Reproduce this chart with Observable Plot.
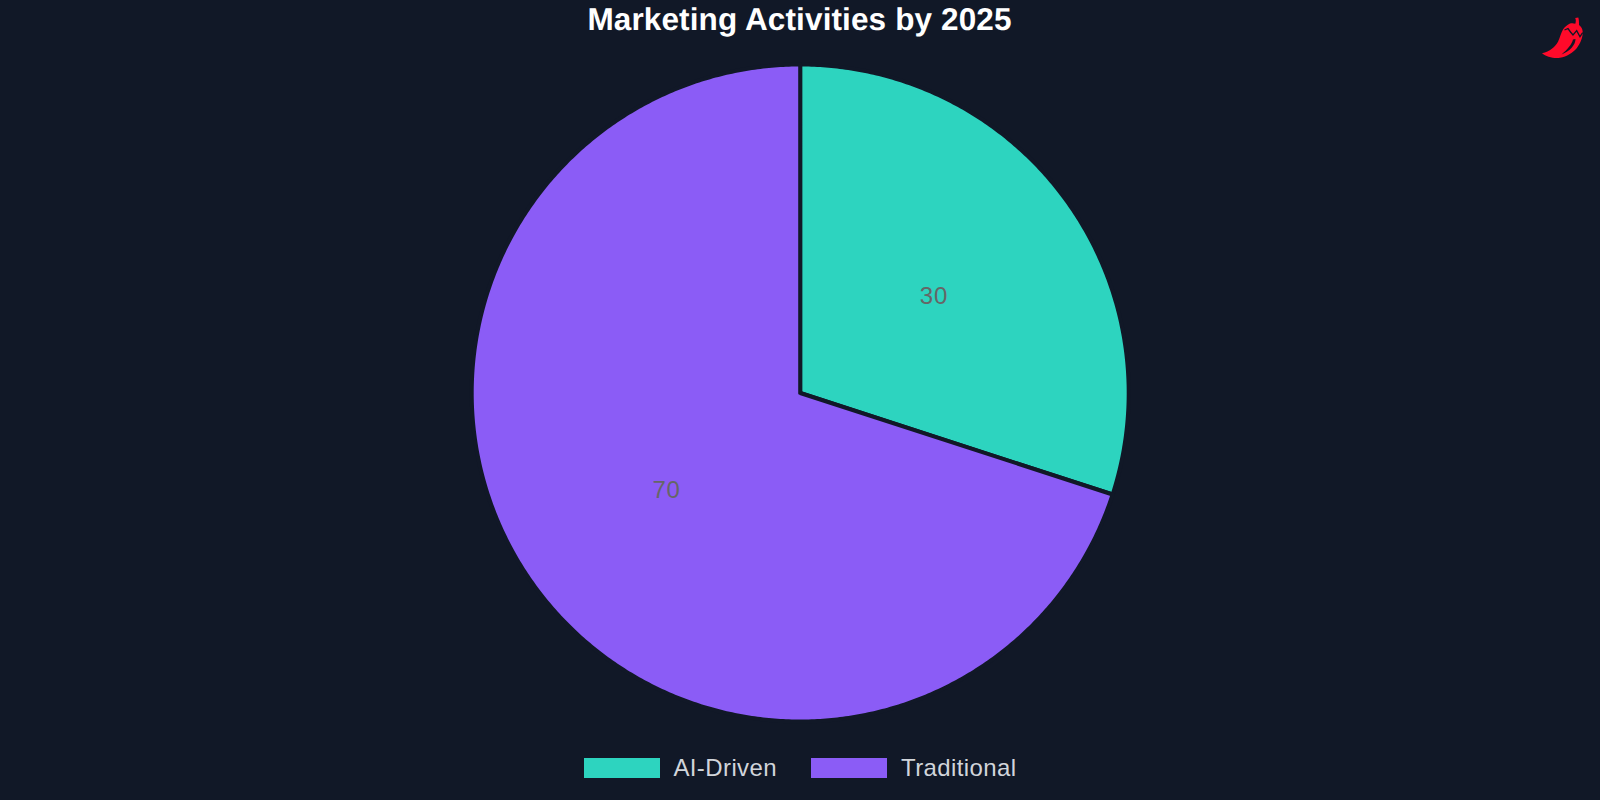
<!DOCTYPE html>
<html>
<head>
<meta charset="utf-8">
<script src="https://cdn.jsdelivr.net/npm/d3@7"></script>
<script src="https://cdn.jsdelivr.net/npm/@observablehq/plot@0.6"></script>
<style>
html,body{margin:0;padding:0;background:#111827;width:1600px;height:800px;overflow:hidden;font-family:"Liberation Sans",Arial,sans-serif;}
#title{position:absolute;left:0;top:-1px;width:1599px;height:40px;line-height:40px;text-align:center;color:#fff;font-weight:bold;font-size:31.5px;letter-spacing:.12px;text-rendering:geometricPrecision;}
#chart{position:absolute;left:0;top:50px;}
#chart text{letter-spacing:.8px;}
#legend{position:absolute;left:0;top:754px;width:1601px;}
#logo{position:absolute;left:1530px;top:10px;}
</style>
</head>
<body>
<div id="title"></div>
<div id="chart"></div>
<div id="legend"></div>
<svg id="logo" width="60" height="55" viewBox="0 0 60 55">
<path fill="#ff0a2a" d="M12 43.300C20 41.500 25 37 28 31.700C30 27.500 31 23 33 19.500C34.500 17 37 15 40 13.500C42 13 44 13.200 45.300 13.800C46 11.500 46 9.500 45.200 8L48.300 7.500C49 9.500 49 12.500 49 15C51 16.500 52.500 18.500 52.700 21.700C53 27 50.500 33 46.700 38.300C42.500 43 37 46.500 30 47.800C24 48.600 16 47 12 43.300Z"/>
<path fill="none" stroke="#111827" stroke-width="1.300" d="M34.500 20L38 18.500L40.500 22L43 25L46.700 20.700L50 26.700L52.700 22.700"/>
<path fill="#111827" d="M45.500 29C45.500 35 40 41 31.500 44.500C37.500 39.500 42 34 43 29.500Z"/>
</svg>
<script>
const title = "Marketing Activities by 2025";
const categories = ["AI-Driven", "Traditional"];
const values = [30, 70];
const colors = ["#2dd4bf", "#8b5cf6"];
const background = "#111827";

document.getElementById("title").textContent = title;

const table = categories.map((name, i) => ({name, value: values[i]}));
const slices = d3.pie().sort(null).value(d => d.value)(table);
const polar = (angle, radius) => [radius * Math.sin(angle), radius * Math.cos(angle)];

// each slice outline: centre, arc, centre
const outline = slices.flatMap(s => {
  const steps = Math.ceil((s.endAngle - s.startAngle) * 180 / Math.PI * 2);
  const pts = d3.range(steps + 1).map(k => polar(s.startAngle + (s.endAngle - s.startAngle) * k / steps, 1));
  return [[0, 0], ...pts, [0, 0]].map(([x, y]) => ({name: s.data.name, x, y}));
});
const labels = slices.map(s => {
  const [x, y] = polar((s.startAngle + s.endAngle) / 2, 0.503);
  return {x, y, value: s.value};
});

const plot = Plot.plot({
  width: 1600,
  height: 690,
  marginLeft: 471.2,
  marginRight: 471.8,
  marginTop: 14,
  marginBottom: 19,
  style: {background: "transparent"},
  x: {domain: [-1, 1], axis: null},
  y: {domain: [-1, 1], axis: null},
  color: {domain: categories, range: colors},
  marks: [
    Plot.line(outline, {x: "x", y: "y", z: "name", fill: "name", stroke: background, strokeWidth: 4, strokeLinejoin: "round", curve: "linear"}),
    Plot.text(labels, {x: "x", y: "y", text: d => String(d.value), fill: "#666666", fontSize: 24, fontFamily: "Liberation Sans"})
  ]
});
document.getElementById("chart").append(plot);

const legend = plot.legend("color", {swatchWidth: 76, swatchHeight: 20, className: "lg"});
document.getElementById("legend").append(legend);
const st = document.createElement("style");
st.textContent = `
#legend>div{display:flex;justify-content:center;align-items:center;margin:0!important;min-height:20px;font:24px "Liberation Sans",Arial,sans-serif;color:#d1d5db;letter-spacing:.4px;}
#legend>div>span{margin-right:34px;}
#legend>div>span:last-child{margin-right:0;}
#legend>div>span>svg{margin-right:13px!important;}
#legend>div>span:last-child>svg{margin-right:14px!important;}
`;
document.head.append(st);
</script>
</body>
</html>
